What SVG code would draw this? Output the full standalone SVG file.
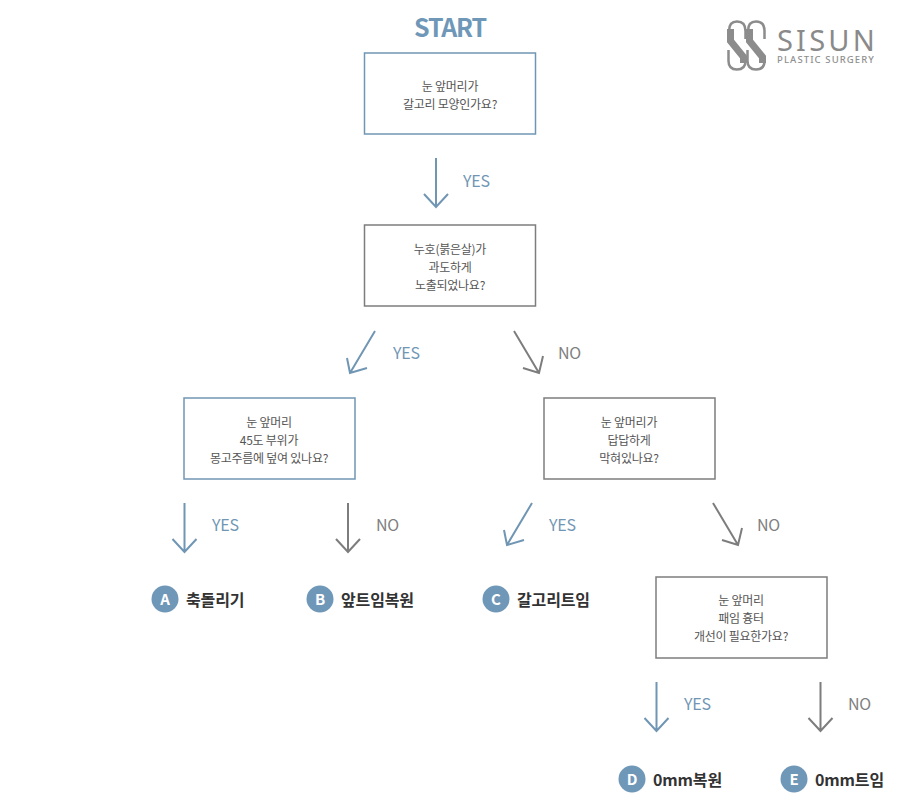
<svg xmlns="http://www.w3.org/2000/svg" width="900" height="804" viewBox="0 0 900 804">
<style>
text{font-family:"Noto Sans CJK KR","Noto Sans",sans-serif}
.box{fill:#fff;stroke-width:1.5}
.b{stroke:#7096b4}.g{stroke:#7d7d7d}
.q{font-size:12px;fill:#555;text-anchor:middle;letter-spacing:-0.25px}
.l{font-size:16px;text-anchor:start;letter-spacing:-0.2px}
.lb{fill:#7096b4}.lg{fill:#808080}
.arr{fill:none;stroke-width:2}
.c{fill:#6f97b8}
.let{font-size:15px;font-weight:700;fill:#fff;text-anchor:middle}
.res{font-size:16px;font-weight:700;fill:#333;letter-spacing:-0.15px}
</style>
<defs>
<path id="d" d="M0 0V49M-12 36L0 49L12 36"/>
<path id="dl" d="M26 0L1 42M-2 27L1 42L18 37"/>
<path id="dr" d="M0 0L25 42M9 37L25 42L29 25"/>
<g id="s" fill="none" stroke="#8c8c8c">
<path stroke-width="7" d="M730.500 29V41L743.500 57V63"/>
<path stroke-width="2.500" d="M729 31Q729 21.500 737 21.500Q745.500 21.500 745.500 31V39M745.500 61Q745.500 69.500 737 69.500Q728.500 69.500 728.500 61V50"/>
</g>
</defs>
<rect width="900" height="804" fill="#fff"/>
<text id="start" x="450" y="37" font-size="25" font-weight="700" fill="#6f97b8" text-anchor="middle" letter-spacing="-1.200">START</text>
<g id="logo">
<use href="#s"/>
<use href="#s" x="19"/>
<text x="777" y="51" font-size="29" fill="#8a8a8a" letter-spacing="3.200" style="font-family:'Noto Sans',sans-serif">SISUN</text>
<text x="777" y="63" font-size="9.500" font-weight="500" fill="#8f8f8f" letter-spacing="1.100" style="font-family:'Noto Sans',sans-serif">PLASTIC SURGERY</text>
</g>
<g id="connectors" class="arr">
<use href="#d" x="436" y="158" class="b"/>
<use href="#dl" x="349" y="331" class="b"/>
<use href="#dr" x="514" y="331" class="g"/>
<use href="#d" x="184.500" y="503" class="b"/>
<use href="#d" x="348" y="503" class="g"/>
<use href="#dl" x="506" y="503" class="b"/>
<use href="#dr" x="713" y="503" class="g"/>
<use href="#d" x="656.500" y="682" class="b"/>
<use href="#d" x="820.500" y="682" class="g"/>
</g>
<g id="edge-labels" class="l">
<text x="463" y="186.500" class="l lb">YES</text>
<text x="393" y="359" class="l lb">YES</text>
<text x="558" y="359" class="l lg">NO</text>
<text x="212" y="531" class="l lb">YES</text>
<text x="376" y="531" class="l lg">NO</text>
<text x="549" y="531" class="l lb">YES</text>
<text x="757" y="531" class="l lg">NO</text>
<text x="684" y="710" class="l lb">YES</text>
<text x="848" y="710" class="l lg">NO</text>
</g>
<g id="q1"><rect class="box b" x="364.500" y="53" width="171" height="81"/>
<text class="q" x="450" y="90.500">눈 앞머리가</text><text class="q" x="450" y="108.500">갈고리 모양인가요?</text></g>
<g id="q2"><rect class="box g" x="364.500" y="225" width="171" height="81"/>
<text class="q" x="450" y="253.500">누호(붉은살)가</text><text class="q" x="450" y="271.500">과도하게</text><text class="q" x="450" y="289.500">노출되었나요?</text></g>
<g id="q3"><rect class="box b" x="184" y="398" width="171" height="81"/>
<text class="q" x="269" y="426.500">눈 앞머리</text><text class="q" x="269" y="444.500">45도 부위가</text><text class="q" x="269" y="462.500">몽고주름에 덮여 있나요?</text></g>
<g id="q4"><rect class="box g" x="544" y="398" width="171" height="81"/>
<text class="q" x="629" y="426.500">눈 앞머리가</text><text class="q" x="629" y="444.500">답답하게</text><text class="q" x="629" y="462.500">막혀있나요?</text></g>
<g id="q5"><rect class="box g" x="656" y="577" width="171" height="81"/>
<text class="q" x="741" y="605">눈 앞머리</text><text class="q" x="741" y="623">패임 흉터</text><text class="q" x="741" y="641">개선이 필요한가요?</text></g>
<g id="a"><circle class="c" cx="165" cy="599" r="13.500"/><text class="let" x="165" y="604.500">A</text><text class="res" x="186" y="605.500">축돌리기</text></g>
<g id="b"><circle class="c" cx="320" cy="599" r="13.500"/><text class="let" x="320" y="604.500">B</text><text class="res" x="341" y="605.500">앞트임복원</text></g>
<g id="c"><circle class="c" cx="496" cy="599" r="13.500"/><text class="let" x="496" y="604.500">C</text><text class="res" x="517" y="605.500">갈고리트임</text></g>
<g id="d-result"><circle class="c" cx="632" cy="779" r="13.500"/><text class="let" x="632" y="784.500">D</text><text class="res" x="653" y="785.500">0mm복원</text></g>
<g id="e-result"><circle class="c" cx="794" cy="779" r="13.500"/><text class="let" x="794" y="784.500">E</text><text class="res" x="815" y="785.500">0mm트임</text></g>
</svg>
